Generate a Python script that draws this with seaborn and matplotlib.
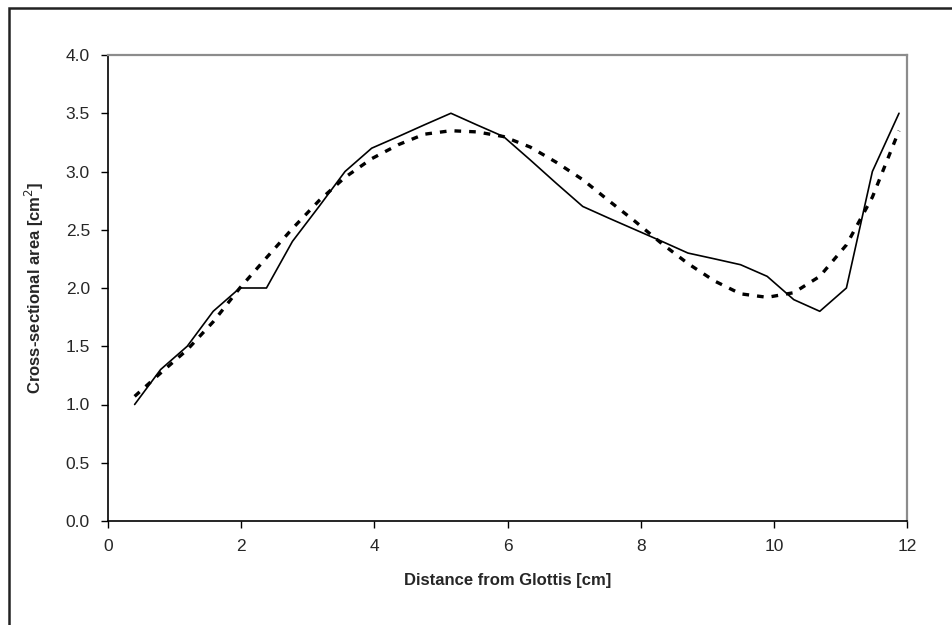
import matplotlib
matplotlib.use("Agg")
import matplotlib.pyplot as plt
import seaborn as sns
import pandas as pd
from matplotlib.patches import Rectangle

# Data
distance = [0.40, 0.79, 1.19, 1.58, 1.98, 2.38, 2.77, 3.17, 3.56, 3.96,
            4.36, 4.75, 5.15, 5.54, 5.94, 6.34, 6.73, 7.13, 7.52, 7.92,
            8.32, 8.71, 9.11, 9.50, 9.90, 10.30, 10.69, 11.09, 11.48, 11.88]
measured_area = [1.00, 1.30, 1.50, 1.80, 2.00, 2.00, 2.40, 2.70, 3.00, 3.20,
                 3.30, 3.40, 3.50, 3.40, 3.30, 3.10, 2.90, 2.70, 2.60, 2.50,
                 2.40, 2.30, 2.25, 2.20, 2.10, 1.90, 1.80, 2.00, 3.00, 3.50]
fitted_area = [1.07, 1.27, 1.47, 1.71, 2.00, 2.26, 2.51, 2.75, 2.95, 3.11,
               3.23, 3.32, 3.35, 3.34, 3.30, 3.21, 3.08, 2.93, 2.75, 2.57,
               2.38, 2.21, 2.06, 1.95, 1.92, 1.96, 2.10, 2.37, 2.78, 3.35]
x_ticks = [0, 2, 4, 6, 8, 10, 12]
y_ticks = [0.0, 0.5, 1.0, 1.5, 2.0, 2.5, 3.0, 3.5, 4.0]

df = pd.DataFrame({"distance": distance, "measured": measured_area, "fitted": fitted_area})

sns.set_style("white")
plt.rcParams["font.family"] = ["Liberation Sans", "DejaVu Sans"]

fig = plt.figure(figsize=(9.52, 6.25), dpi=100)
ax = fig.add_axes([108 / 952, 1 - 521 / 625, (907 - 108) / 952, (521 - 55) / 625])

sns.lineplot(data=df, x="distance", y="measured", ax=ax, color="black",
             linewidth=1.2, estimator=None, sort=False)
sns.lineplot(data=df, x="distance", y="fitted", ax=ax, color="black",
             linewidth=2.4, dashes=False, estimator=None, sort=False)
ax.lines[-1].set_linestyle((0, (2.0, 2.4)))
ax.lines[-1].set_dash_capstyle("butt")

ax.set_xlim(0, 12)
ax.set_ylim(0, 4.0)
ax.set_xticks(x_ticks)
ax.set_xticklabels([str(t) for t in x_ticks], fontsize=12.5)
ax.set_yticks(y_ticks)
ax.set_yticklabels([f"{t:.1f}" for t in y_ticks], fontsize=12.5)
ax.tick_params(axis="both", direction="out", length=5, width=1, color="black",
               bottom=True, left=True, pad=8)

for s in ["left", "bottom"]:
    ax.spines[s].set_color("black")
    ax.spines[s].set_linewidth(1.2)
for s in ["top", "right"]:
    ax.spines[s].set_color("#8c8c8c")
    ax.spines[s].set_linewidth(1.6)
    ax.spines[s].set_visible(True)

ax.set_xlabel("Distance from Glottis [cm]", fontsize=12, fontweight="bold", labelpad=14)
ax.set_ylabel("Cross-sectional area [cm$^2$]", fontsize=12, fontweight="bold", labelpad=14)

# outer chart frame (only left and top visible in the reference)
fig.patches.append(Rectangle((8.5 / 952, -0.5), 2.0, 1.5 - 7.5 / 625,
                             transform=fig.transFigure, fill=False,
                             edgecolor="#222222", linewidth=1.8))

fig.savefig("out.png", dpi=100)
